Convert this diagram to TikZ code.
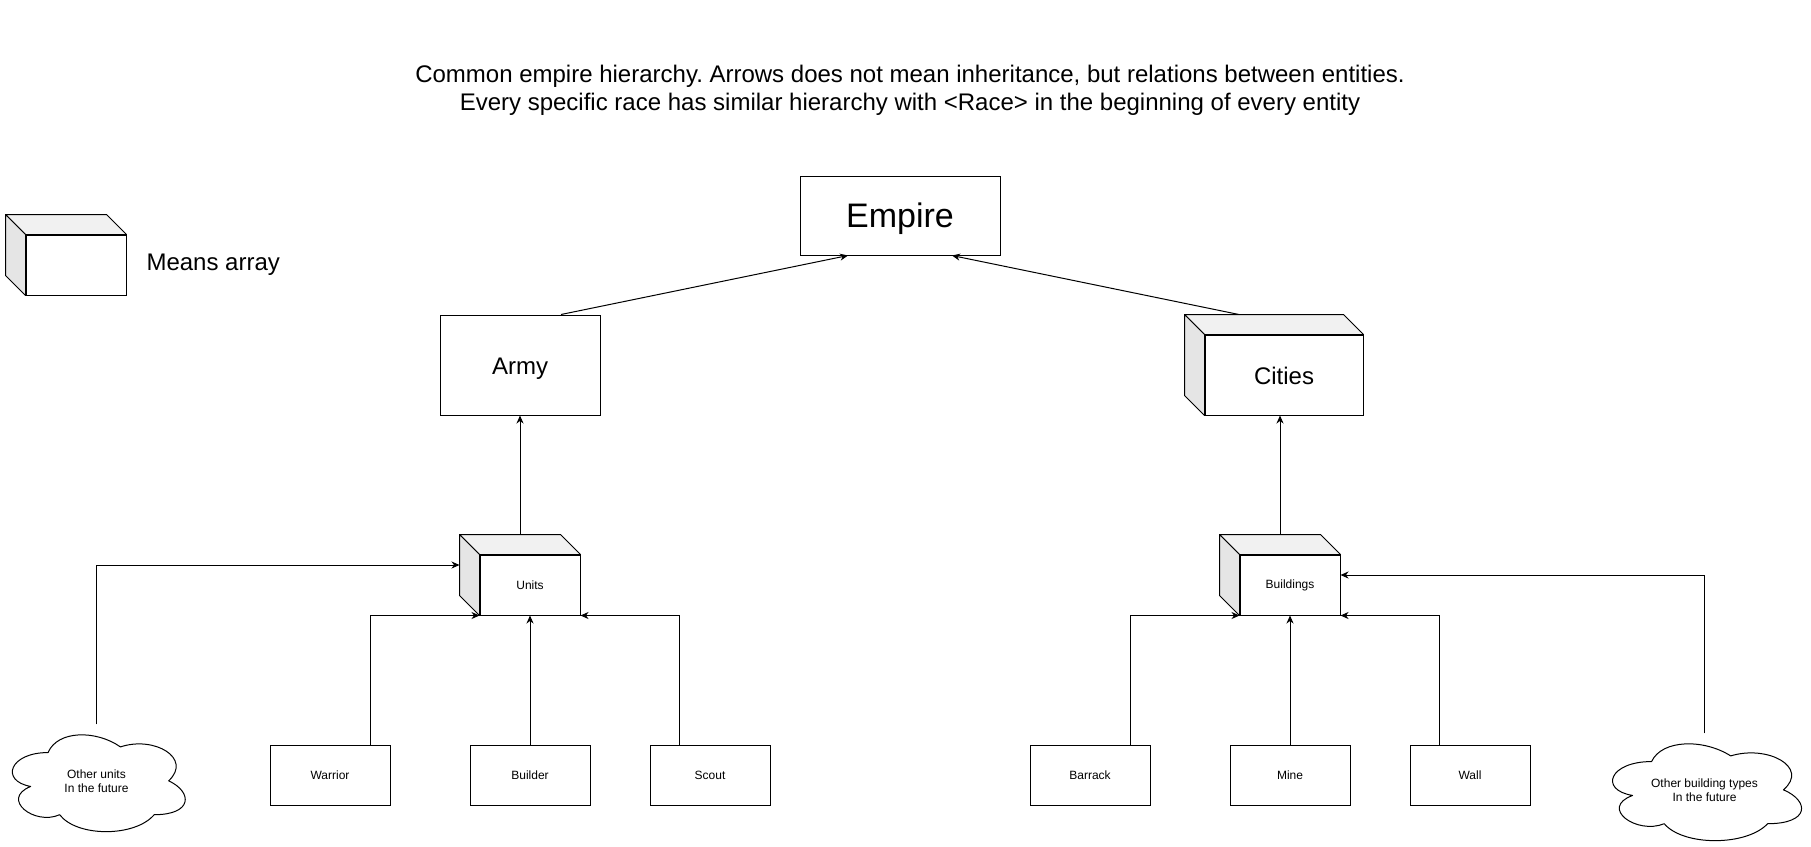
\documentclass[tikz,border=0pt]{standalone}
\usepackage{fontspec}
\setmainfont{Liberation Sans}
\usetikzlibrary{calc,arrows.meta}
\frenchspacing
\definecolor{topgray}{RGB}{241,241,241}
\definecolor{sidegray}{RGB}{229,229,229}
\newcommand\cubefaces[2]{%
  \filldraw[facestyle, fill=topgray] (#1.north west) -- ++(-#2,-#2) -- ($(#1.north east)+(-#2,-#2)$) -- (#1.north east) -- cycle;
  \filldraw[facestyle, fill=sidegray] (#1.north west) -- ++(-#2,-#2) -- ($(#1.south west)+(-#2,-#2)$) -- (#1.south west) -- cycle;
}
\newcommand\drawioCloud[1]{%
  \begin{scope}[shift={(#1.north west)}, x=\cloudw pt, y=-\cloudh pt]
    \draw[line width=1pt, line join=round]
      (0.25,0.25) .. controls (0.05,0.25) and (0,0.5) .. (0.16,0.55)
      .. controls (0,0.66) and (0.18,0.9) .. (0.31,0.8)
      .. controls (0.4,1) and (0.7,1) .. (0.8,0.8)
      .. controls (1,0.8) and (1,0.6) .. (0.875,0.5)
      .. controls (1,0.3) and (0.8,0.1) .. (0.625,0.2)
      .. controls (0.5,0.05) and (0.3,0.05) .. (0.25,0.25) -- cycle;
  \end{scope}
}
\tikzset{
  facestyle/.style={line width=1pt, line join=round},
  box/.style={draw, line width=1pt, fill=white, inner sep=0pt, align=center,
              font=\fontsize{12}{14}\selectfont},
  midtext/.style={font=\fontsize{24}{28}\selectfont, text height=20pt, text depth=2pt},
  bigtext/.style={font=\fontsize{34}{40}\selectfont, text height=28pt, text depth=3.8pt},
  cloudnode/.style={inner sep=0pt, align=center, font=\fontsize{12}{14.5}\selectfont},
  arr/.style={line width=1pt, -{Stealth[length=8pt,width=7pt,inset=2.5pt]}},
}
\begin{document}
\begin{tikzpicture}[x=1pt, y=-1pt]
  \fill[white] (0,0) rectangle (1811,846);
  \useasboundingbox (0,0) rectangle (1811,846);

  % title
  \node[align=center, font=\fontsize{24}{28}\selectfont] (title) at (910,90.5)
    {Common empire hierarchy. Arrows does not mean inheritance, but relations between entities.\\
     Every specific race has similar hierarchy with <Race> in the beginning of every entity};

  % legend
  \node[box, minimum width=100, minimum height=60] (legend) at (76,265) {};
  \cubefaces{legend}{20}
  \node[font=\fontsize{24}{28}\selectfont, anchor=west] (legendtext) at (143,265) {Means array};

  % main boxes
  \node[box, bigtext, minimum width=200, minimum height=79] (empire) at (900,215.5) {Empire};
  \node[box, midtext, minimum width=160, minimum height=100] (army) at (520,365) {Army};
  \node[box, midtext, minimum width=158, minimum height=80] (cities) at (1284,375) {Cities};
  \cubefaces{cities}{20}

  \node[box, minimum width=100, minimum height=60] (units) at (530,585) {Units};
  \cubefaces{units}{20}
  \node[box, minimum width=100, minimum height=60] (buildings) at (1290,585) {Buildings};
  \cubefaces{buildings}{20}

  \node[box, minimum width=120, minimum height=60] (warrior) at (330,775) {Warrior};
  \node[box, minimum width=120, minimum height=60] (builder) at (530,775) {Builder};
  \node[box, minimum width=120, minimum height=60] (scout) at (710,775) {Scout};
  \node[box, minimum width=120, minimum height=60] (barrack) at (1090,775) {Barrack};
  \node[box, minimum width=120, minimum height=60] (mine) at (1290,775) {Mine};
  \node[box, minimum width=120, minimum height=60] (wall) at (1470,775) {Wall};

  % clouds
  \def\cloudw{193}\def\cloudh{113}
  \node[cloudnode, minimum width=193, minimum height=113] (cloudL) at (96.5,781) {Other units\\In the future};
  \drawioCloud{cloudL}
  \def\cloudw{211}\def\cloudh{113}
  \node[cloudnode, minimum width=211, minimum height=113] (cloudR) at (1704.5,790) {Other building types\\In the future};
  \drawioCloud{cloudR}

  % connectors to empire
  \draw[arr] ($(army.north)+(41,0)$) -- ($(empire.south)+(-52,0)$);
  \draw[arr] ($(cities.north)+(-45,-20)$) -- ($(empire.south)+(52,0)$);

  % units / buildings upward
  \coordinate (unitsTop) at ($(units.north)+(-10,-20)$);
  \draw[arr] (unitsTop) -- (unitsTop |- army.south);
  \coordinate (buildTop) at ($(buildings.north)+(-10,-20)$);
  \draw[arr] (buildTop) -- (buildTop |- cities.south);

  % unit types
  \draw[arr] ($(warrior.north east)+(-20,0)$) |- (units.south west);
  \draw[arr] (builder.north) -- (units.south);
  \draw[arr] ($(scout.north west)+(30,0)$) |- (units.south east);
  \coordinate (unitsSide) at ($(units.west)+(-20,-20)$);
  \draw[arr] (cloudL.north) |- (unitsSide);

  % building types
  \draw[arr] ($(barrack.north east)+(-20,0)$) |- (buildings.south west);
  \draw[arr] (mine.north) -- (buildings.south);
  \draw[arr] ($(wall.north west)+(30,0)$) |- (buildings.south east);
  \coordinate (buildSide) at ($(buildings.east)+(0,-10)$);
  \draw[arr] (cloudR.north) |- (buildSide);
\end{tikzpicture}
\end{document}
